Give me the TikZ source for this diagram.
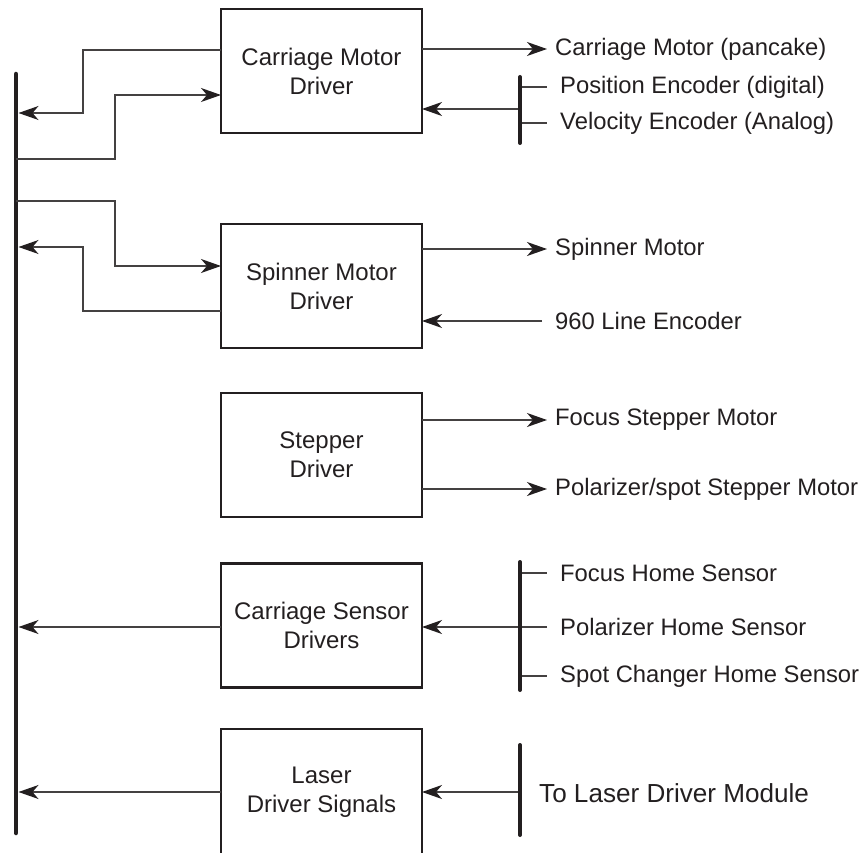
\documentclass[tikz,border=0pt]{standalone}
\usepackage{fontspec}
\setmainfont{Liberation Sans}
\usetikzlibrary{arrows.meta,calc}
\definecolor{ink}{HTML}{231F20}
\tikzset{
  box/.style={draw=ink, line width=2.2pt, minimum width=201pt, minimum height=124pt,
    inner sep=0pt, outer sep=0pt, align=center, text=ink,
    font=\fontsize{24}{29}\selectfont},
  lbl/.style={anchor=west, inner sep=0pt, text=ink, font=\fontsize{23.8}{29}\selectfont},
  biglbl/.style={anchor=west, inner sep=0pt, text=ink, font=\fontsize{26.1}{31}\selectfont},
  conn/.style={draw=ink!85, line width=1.3pt},
  arr/.style={conn, -{Stealth[length=20pt,width=14pt,inset=6pt,color=ink]}},
  busline/.style={draw=ink, line width=4.5pt, line cap=round},
  barline/.style={draw=ink, line width=4pt, line cap=round}
}
\begin{document}
\begin{tikzpicture}[x=1pt,y=-1pt]
\useasboundingbox (0,0) rectangle (862,853);
% bus
\coordinate (bustop) at (16,74);
\coordinate (busbot) at (16,833);
\draw[busline] (bustop) -- (busbot);
% boxes
\node[box] (b1) at (321.5,71) {Carriage Motor\\Driver};
\node[box] (b2) at (321.5,286) {Spinner Motor\\Driver};
\node[box] (b3) at (321.5,455) {Stepper\\Driver};
\node[box] (b4) at (321.5,625.5) {Carriage Sensor\\Drivers};
\node[box, minimum height=126pt] (b5) at (321.5,792) {Laser\\Driver Signals};
% bus points
\coordinate (p1) at (18.5,113);
\coordinate (p2) at (16,159);
\coordinate (p3) at (16,201);
\coordinate (p4) at (18.5,247);
\coordinate (p5) at (18.5,627);
\coordinate (p6) at (18.5,792);
% left connectors
\draw[arr] (b1.west |- 0,50) -- (83,50) -- (83,113) -- (p1);
\draw[arr] (p2) -- (115,159) -- (115,95) -- (b1.west |- 0,95);
\draw[arr] (p3) -- (115,201) -- (115,266) -- (b2.west |- 0,266);
\draw[arr] (b2.west |- 0,311) -- (83,311) -- (83,247) -- (p4);
\draw[arr] (b4.west |- 0,627) -- (p5);
\draw[arr] (b5.west |- 0,792) -- (p6);
% right side labels
\node[lbl] (l1) at (555,49) {Carriage Motor (pancake)};
\node[lbl] (l2) at (560,87) {Position Encoder (digital)};
\node[lbl] (l3) at (560,123) {Velocity Encoder (Analog)};
\node[lbl] (l4) at (555,249) {Spinner Motor};
\node[lbl] (l5) at (555,321) {960 Line Encoder};
\node[lbl] (l6) at (555,420) {Focus Stepper Motor};
\node[lbl] (l7) at (555,489) {Polarizer/spot Stepper Motor};
\node[lbl] (l8) at (560,573) {Focus Home Sensor};
\node[lbl] (l9) at (560,627) {Polarizer Home Sensor};
\node[lbl] (l10) at (560,676) {Spot Changer Home Sensor};
\node[biglbl] (l11) at (539,793) {To Laser Driver Module};
% right connectors
\coordinate (e1) at (547,49);
\draw[arr] (b1.east |- e1) -- (e1);
\coordinate (e4) at (547,249);
\draw[arr] (b2.east |- e4) -- (e4);
\coordinate (e5) at (542,321);
\draw[arr] (e5) -- (b2.east |- e5);
\coordinate (e6) at (547,420);
\draw[arr] (b3.east |- e6) -- (e6);
\coordinate (e7) at (547,489);
\draw[arr] (b3.east |- e7) -- (e7);
% encoder bar
\coordinate (bar1t) at (520,77);
\coordinate (bar1b) at (520,143);
\coordinate (t2) at (547,87);
\coordinate (t3) at (547,123);
\draw[conn] (bar1t |- t2) -- (t2);
\draw[conn] (bar1t |- t3) -- (t3);
\coordinate (m1) at (520,109);
\draw[arr] (m1) -- (b1.east |- m1);
\draw[barline] (bar1t) -- (bar1b);
% sensor bar
\coordinate (bar2t) at (520,562);
\coordinate (bar2b) at (520,690);
\coordinate (t8) at (547,573);
\coordinate (t9) at (547,627);
\coordinate (t10) at (547,676);
\draw[conn] (bar2t |- t8) -- (t8);
\draw[conn] (bar2t |- t10) -- (t10);
\draw[arr] (t9) -- (b4.east |- t9);
\draw[barline] (bar2t) -- (bar2b);
% laser bar
\coordinate (bar3t) at (520,745);
\coordinate (bar3b) at (520,835);
\coordinate (m3) at (520,792);
\draw[arr] (m3) -- (b5.east |- m3);
\draw[barline] (bar3t) -- (bar3b);
\end{tikzpicture}
\end{document}
